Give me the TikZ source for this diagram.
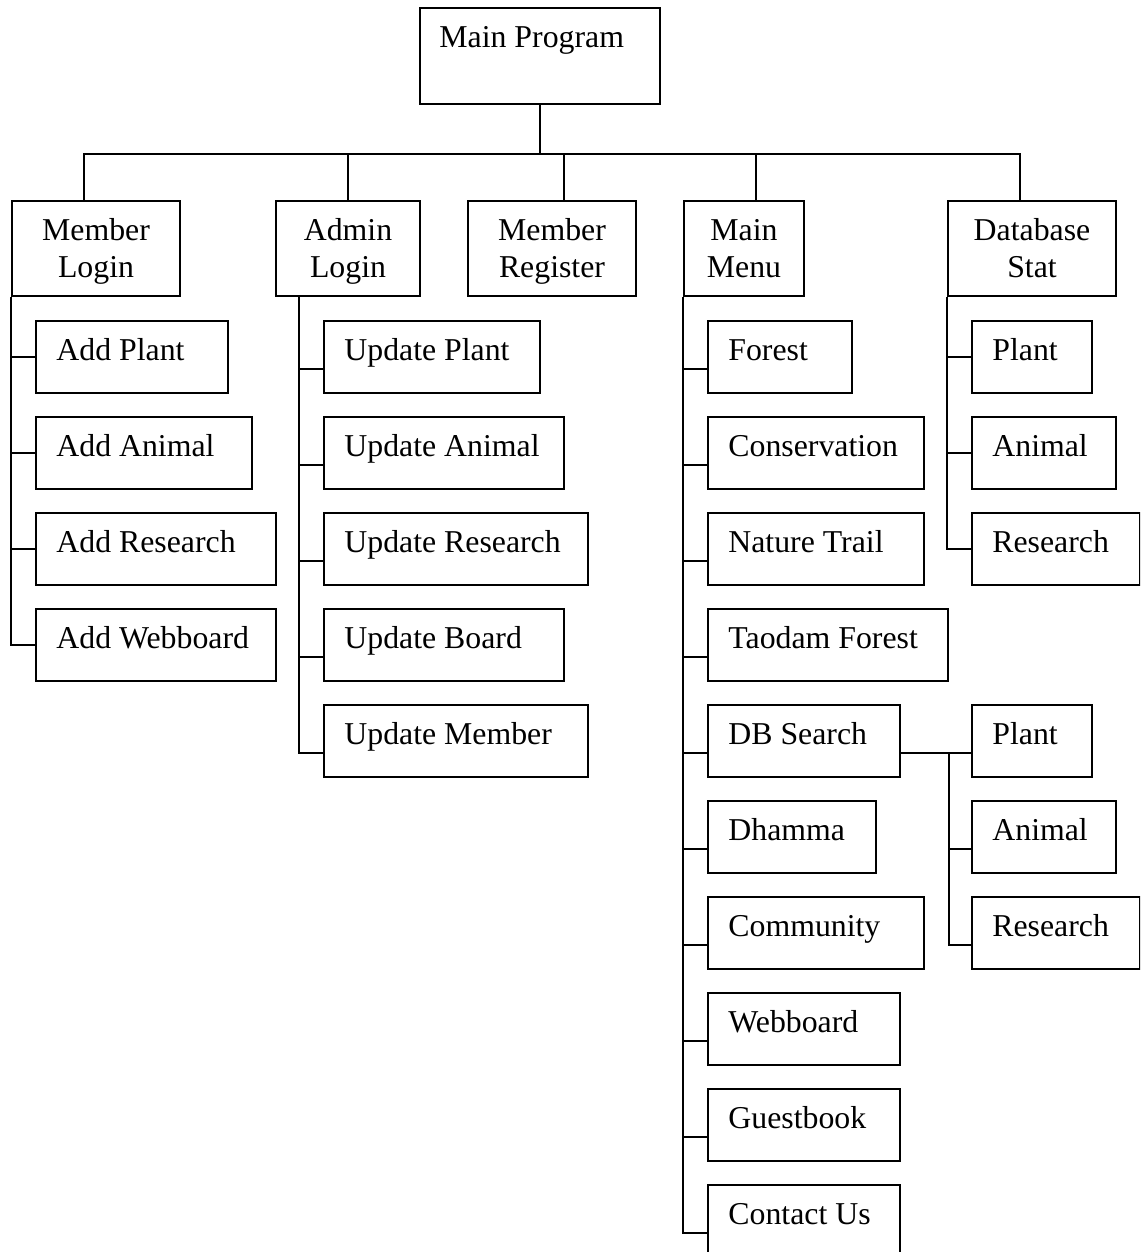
\documentclass[tikz,border=0pt]{standalone}
\usepackage{fontspec}
\setmainfont{Liberation Serif}
\usetikzlibrary{calc}

\tikzset{
  box/.style={draw, line width=1pt, rectangle, inner sep=0pt, anchor=north west},
  lbl/.style={inner sep=0pt, font=\fontsize{15.9}{18.5}\selectfont},
  wire/.style={line width=1pt},
}

% leaf box: name, left, top, right, text, offset of the incoming tick below the middle
\newcommand\leafbox[6]{%
  \pgfmathsetmacro\lw{(#4-#2)*0.5}%
  \node[box, minimum width=\lw pt, minimum height=35.75pt] (#1) at (#2,#3) {};
  \node[lbl, anchor=base west] (#1-t) at ($(#1.north west)+(21,40.5)$) {#5};
  \coordinate (#1-in) at ($(#1.west)+(0,#6)$);
}

% two-line heading box: name, left, top, right, first line, second line
\newcommand\hdbox[6]{%
  \pgfmathsetmacro\lw{(#4-#2)*0.5}%
  \node[box, minimum width=\lw pt, minimum height=47.75pt] (#1) at (#2,#3) {};
  \node[lbl, anchor=base] (#1-a) at ($(#1.north)+(0,40.5)$) {#5};
  \node[lbl, anchor=base] (#1-b) at ($(#1.north)+(0,77.5)$) {#6};
}

\begin{document}
\begin{tikzpicture}[x=0.5pt, y=-0.5pt]
\clip (0,0) rectangle (1140,1252);

% root
\node[box, minimum width=120pt, minimum height=48pt] (main) at (419,7) {};
\node[lbl, anchor=base west] (main-t) at ($(main.north west)+(20,41)$) {Main Program};

% first level
\hdbox{mlogin}{11}{199.5}{179}{Member}{Login}
\hdbox{alogin}{275}{199.5}{419}{Admin}{Login}
\hdbox{mreg}{467}{199.5}{635}{Member}{Register}
\hdbox{mmenu}{683}{199.5}{803}{Main}{Menu}
\hdbox{dbstat}{947}{199.5}{1115}{Database}{Stat}

% member login items
\leafbox{addplant}{35}{320}{227}{Add Plant}{0}
\leafbox{addanimal}{35}{416}{251}{Add Animal}{0}
\leafbox{addresearch}{35}{512}{275}{Add Research}{0}
\leafbox{addweb}{35}{608}{275}{Add Webboard}{0}

% admin login items
\leafbox{updplant}{323}{320}{539}{Update Plant}{12}
\leafbox{updanimal}{323}{416}{563}{Update Animal}{12}
\leafbox{updresearch}{323}{512}{587}{Update Research}{12}
\leafbox{updboard}{323}{608}{563}{Update Board}{12}
\leafbox{updmember}{323}{704}{587}{Update Member}{12}

% main menu items
\leafbox{forest}{707}{320}{851}{Forest}{12}
\leafbox{conserv}{707}{416}{923}{Conservation}{12}
\leafbox{trail}{707}{512}{923}{Nature Trail}{12}
\leafbox{taodam}{707}{608}{947}{Taodam Forest}{12}
\leafbox{dbsearch}{707}{704}{899}{DB Search}{12}
\leafbox{dhamma}{707}{800}{875}{Dhamma}{12}
\leafbox{community}{707}{896}{923}{Community}{12}
\leafbox{webboard}{707}{992}{899}{Webboard}{12}
\leafbox{guestbook}{707}{1088}{899}{Guestbook}{12}
\leafbox{contact}{707}{1184}{899}{Contact Us}{12}

% database statistics items
\leafbox{stplant}{971}{320}{1091}{Plant}{0}
\leafbox{stanimal}{971}{416}{1115}{Animal}{0}
\leafbox{stresearch}{971}{512}{1139}{Research}{0}

% search items
\leafbox{splant}{971}{704}{1091}{Plant}{12}
\leafbox{sanimal}{971}{800}{1115}{Animal}{12}
\leafbox{sresearch}{971}{896}{1139}{Research}{12}

% top bus
\coordinate (bus) at ($(main.south)+(0,48.5)$);
\coordinate (dML) at ($(mlogin.north)+(-12,0)$);
\coordinate (dMR) at ($(mreg.north)+(12,0)$);
\coordinate (dMM) at ($(mmenu.north)+(12,0)$);
\coordinate (dDB) at ($(dbstat.north)+(-12,0)$);
\draw[wire] (main.south) -- (bus);
\draw[wire] (dML) -- (dML |- bus) -- (dDB |- bus) -- (dDB);
\draw[wire] (alogin.north) -- (alogin.north |- bus);
\draw[wire] (dMR) -- (dMR |- bus);
\draw[wire] (dMM) -- (dMM |- bus);

% member login branch
\coordinate (mspine) at (mlogin.south west);
\draw[wire] (mspine) |- (addweb-in);
\foreach \n in {addplant,addanimal,addresearch}
  \draw[wire] (\n-in) -- (\n-in -| mspine);

% admin login branch
\coordinate (aspine) at ($(alogin.south west)+(24,0)$);
\draw[wire] (aspine) |- (updmember-in);
\foreach \n in {updplant,updanimal,updresearch,updboard}
  \draw[wire] (\n-in) -- (\n-in -| aspine);

% main menu branch
\coordinate (mmspine) at (mmenu.south west);
\draw[wire] (mmspine) |- (contact-in);
\foreach \n in {forest,conserv,trail,taodam,dbsearch,dhamma,community,webboard,guestbook}
  \draw[wire] (\n-in) -- (\n-in -| mmspine);

% database statistics branch
\coordinate (dspine) at (dbstat.south west);
\draw[wire] (dspine) |- (stresearch-in);
\foreach \n in {stplant,stanimal}
  \draw[wire] (\n-in) -- (\n-in -| dspine);

% search branch
\coordinate (sspine) at ($(dbsearch.east)+(48,12)$);
\draw[wire] (dbsearch-in -| dbsearch.east) -- (splant-in);
\draw[wire] (sspine) |- (sresearch-in);
\draw[wire] (sanimal-in) -- (sanimal-in -| sspine);
\end{tikzpicture}
\end{document}
